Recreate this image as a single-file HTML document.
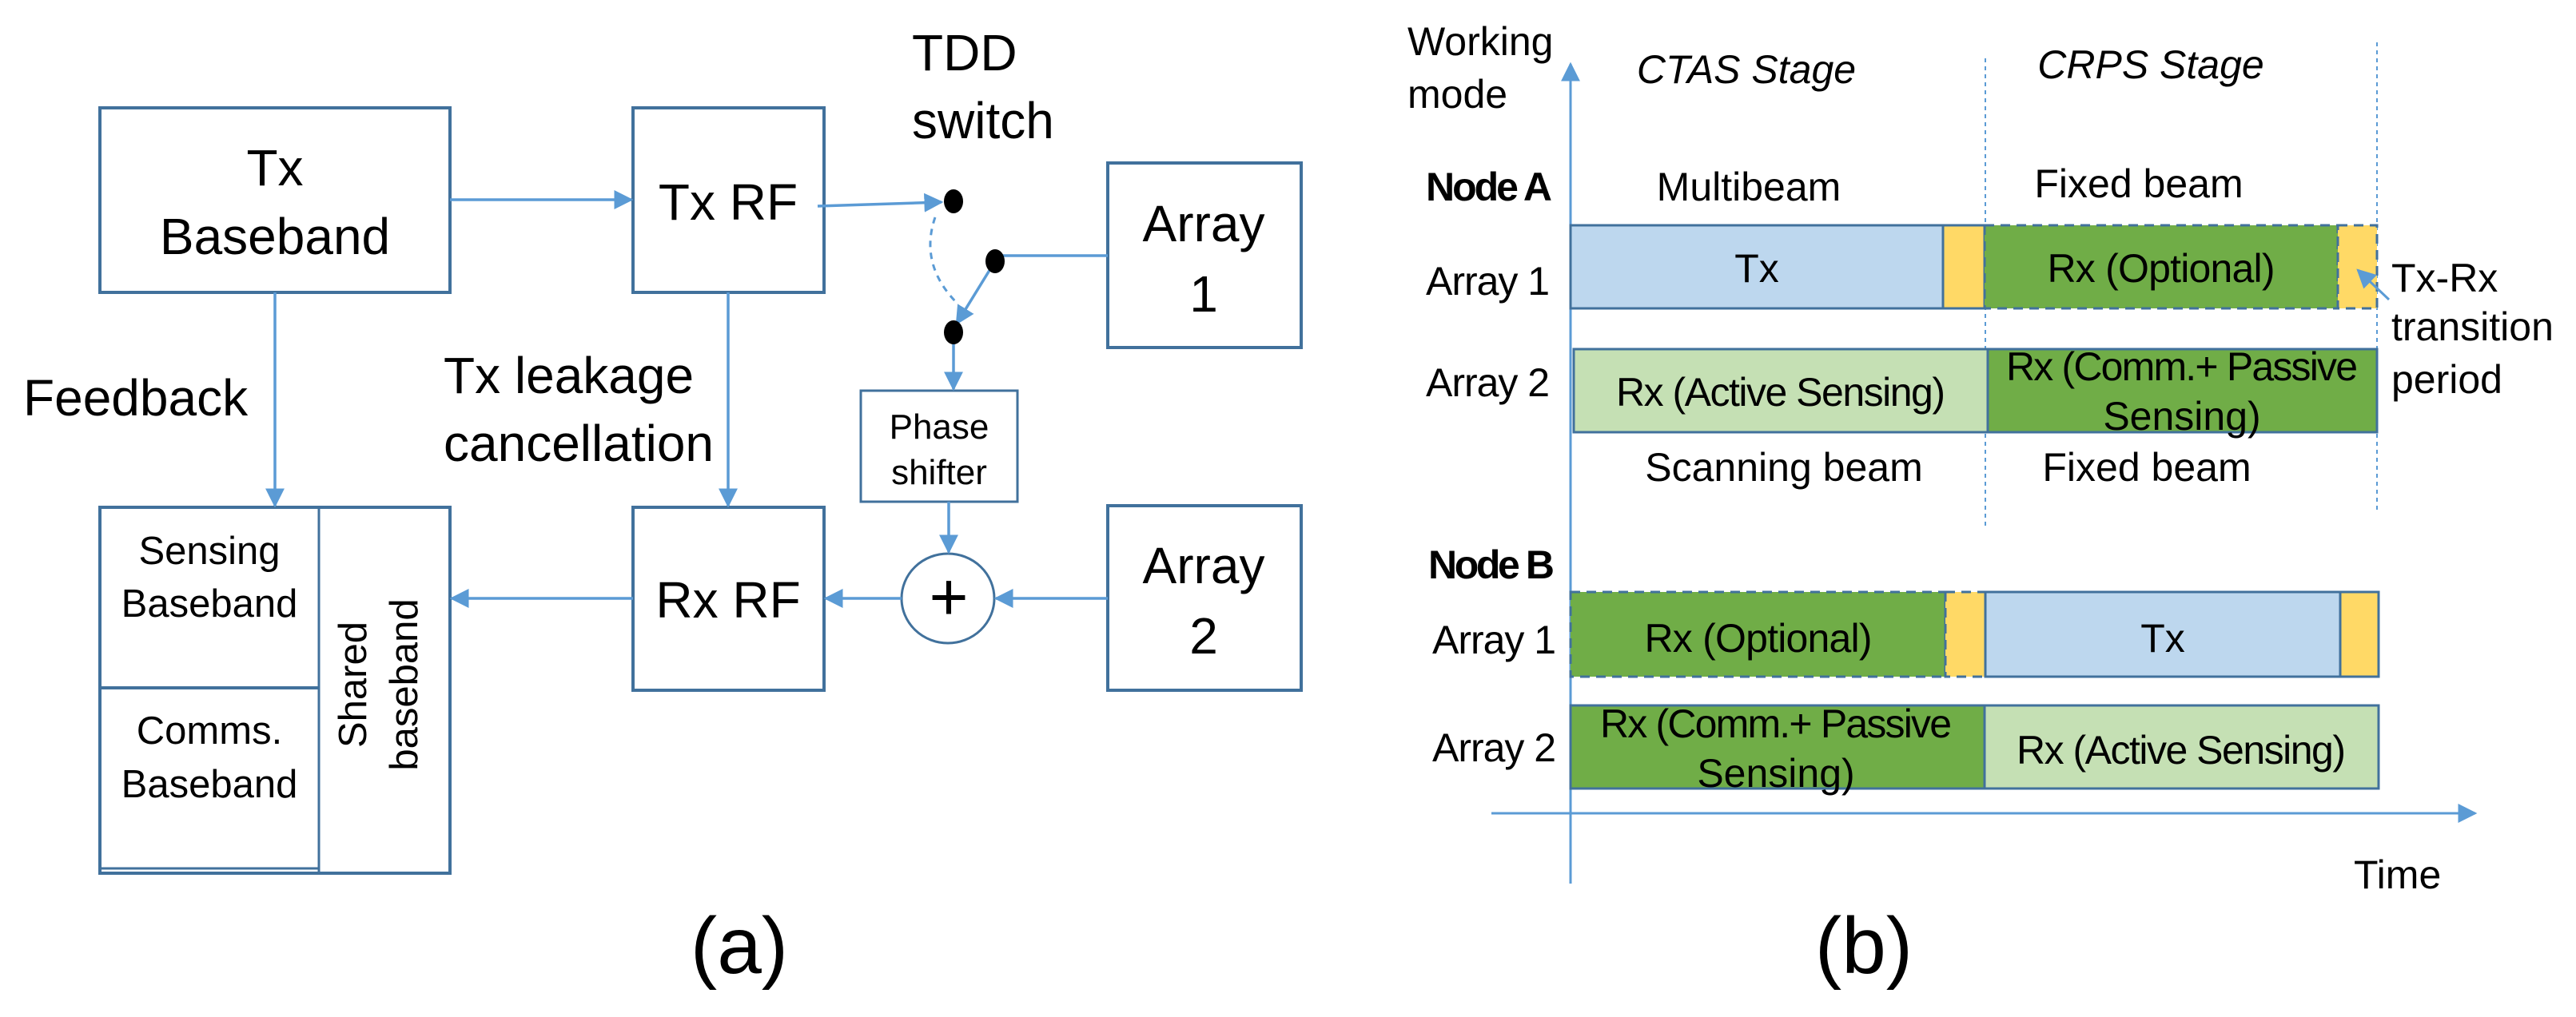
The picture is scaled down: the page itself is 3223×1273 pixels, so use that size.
<!DOCTYPE html>
<html><head><meta charset="utf-8"><style>
html,body{margin:0;padding:0;background:#fff;}
svg{display:block;}
text{font-family:"Liberation Sans",sans-serif;fill:#000;}
</style></head><body>
<svg width="3223" height="1273" viewBox="0 0 3223 1273" xmlns="http://www.w3.org/2000/svg">
<defs>
<marker id="a" viewBox="0 0 10 10" refX="9" refY="5" markerWidth="24" markerHeight="24" markerUnits="userSpaceOnUse" orient="auto"><path d="M0,0 L10,5 L0,10 z" fill="#5b9bd5"/></marker>
</defs>
<g fill="none" stroke="#41719c" stroke-width="4">
<rect x="125" y="135" width="438" height="231"/>
<rect x="792" y="135" width="239" height="231"/>
<rect x="1386" y="204" width="242" height="231"/>
<rect x="1077" y="489" width="196" height="139" stroke-width="3"/>
<rect x="1386" y="633" width="242" height="231"/>
<rect x="792" y="635" width="239" height="229"/>
<rect x="125" y="635" width="438" height="458"/>
<line x1="399" y1="635" x2="399" y2="1093" stroke-width="3"/>
<line x1="125" y1="861" x2="399" y2="861"/>
<line x1="125" y1="1087" x2="399" y2="1087" stroke-width="3"/>
<ellipse cx="1186" cy="749" rx="58" ry="56" stroke-width="3"/>
</g>
<g stroke="#5b9bd5" stroke-width="3.5" fill="none">
<line x1="563" y1="250" x2="790" y2="250" marker-end="url(#a)"/>
<line x1="1023" y1="258" x2="1178" y2="253" marker-end="url(#a)"/>
<line x1="344" y1="366" x2="344" y2="633" marker-end="url(#a)"/>
<line x1="911" y1="366" x2="911" y2="633" marker-end="url(#a)"/>
<line x1="1386" y1="320" x2="1245" y2="320"/>
<line x1="1245" y1="327" x2="1197" y2="405" marker-end="url(#a)"/>
<path d="M1170,272 Q1150,330 1196,378" stroke-dasharray="8,7" stroke-width="3"/>
<line x1="1193" y1="416" x2="1193" y2="487" marker-end="url(#a)"/>
<line x1="1187" y1="628" x2="1187" y2="691" marker-end="url(#a)"/>
<line x1="1386" y1="749" x2="1246" y2="749" marker-end="url(#a)"/>
<line x1="1128" y1="749" x2="1033" y2="749" marker-end="url(#a)"/>
<line x1="792" y1="749" x2="565" y2="749" marker-end="url(#a)"/>
</g>
<g fill="#000">
<ellipse cx="1193" cy="252" rx="12" ry="15"/>
<ellipse cx="1245" cy="327" rx="12" ry="15"/>
<ellipse cx="1193" cy="416" rx="12" ry="15"/>
</g>
<g font-size="64" text-anchor="middle">
<text x="344" y="232">Tx</text>
<text x="344" y="318">Baseband</text>
<text x="911" y="275">Tx RF</text>
<text x="911" y="773">Rx RF</text>
<text x="1506" y="302">Array</text>
<text x="1506" y="390">1</text>
<text x="1506" y="730">Array</text>
<text x="1506" y="818">2</text>
<text x="1187" y="776" font-size="84">+</text>
</g>
<g font-size="64">
<text x="1141" y="88">TDD</text>
<text x="1141" y="173">switch</text>
<text x="29" y="520">Feedback</text>
<text x="555" y="492">Tx leakage</text>
<text x="555" y="577">cancellation</text>
</g>
<g font-size="44" text-anchor="middle">
<text x="1175" y="549">Phase</text>
<text x="1175" y="606">shifter</text>
</g>
<g font-size="49" text-anchor="middle">
<text x="262" y="706">Sensing</text>
<text x="262" y="772">Baseband</text>
<text x="262" y="931">Comms.</text>
<text x="262" y="998">Baseband</text>
<g transform="translate(478,857) rotate(-90)">
<text x="0" y="-20">Shared</text>
<text x="0" y="44">baseband</text>
</g>
</g>
<text x="925" y="1218" font-size="100" text-anchor="middle">(a)</text>

<!-- (b) -->
<g stroke="#5b9bd5" stroke-width="3" fill="none">
<line x1="1965" y1="1106" x2="1965" y2="80" marker-end="url(#a)"/>
<line x1="1866" y1="1018" x2="3097" y2="1018" marker-end="url(#a)"/>
<line x1="2484" y1="73" x2="2484" y2="661" stroke-dasharray="5,5" stroke-width="2"/>
<line x1="2974" y1="53" x2="2974" y2="640" stroke-dasharray="5,5" stroke-width="2"/>
</g>
<g stroke="#41719c" stroke-width="3">
<rect x="1965" y="282" width="466" height="104" fill="#bdd7ee"/>
<rect x="2431" y="282" width="52" height="104" fill="#ffd966"/>
<rect x="2483" y="282" width="442" height="104" fill="#70ad47" stroke-dasharray="12,8"/>
<rect x="2925" y="282" width="49" height="104" fill="#ffd966" stroke-dasharray="12,8"/>
<rect x="1969" y="437" width="518" height="104" fill="#c5e0b4"/>
<rect x="2487" y="437" width="487" height="104" fill="#70ad47"/>
<rect x="1965" y="741" width="469" height="106" fill="#70ad47" stroke-dasharray="12,8"/>
<rect x="2434" y="741" width="50" height="106" fill="#ffd966" stroke-dasharray="12,8"/>
<rect x="2484" y="741" width="444" height="106" fill="#bdd7ee"/>
<rect x="2928" y="741" width="48" height="106" fill="#ffd966"/>
<rect x="1965" y="883" width="518" height="104" fill="#70ad47"/>
<rect x="2483" y="883" width="493" height="104" fill="#c5e0b4"/>
</g>
<line x1="2989" y1="375" x2="2950" y2="338" stroke="#5b9bd5" stroke-width="3" marker-end="url(#a)"/>
<g font-size="50">
<text x="1761" y="69">Working</text>
<text x="1761" y="135">mode</text>
<text x="1784" y="251" font-weight="bold" textLength="158">Node A</text>
<text x="1784" y="369" textLength="155">Array 1</text>
<text x="1784" y="496" textLength="155">Array 2</text>
<text x="1787" y="724" font-weight="bold" textLength="158">Node B</text>
<text x="1792" y="818" textLength="155">Array 1</text>
<text x="1792" y="953" textLength="155">Array 2</text>
<text x="2992" y="365">Tx-Rx</text>
<text x="2992" y="426">transition</text>
<text x="2992" y="492">period</text>
<text x="2945" y="1112">Time</text>
</g>
<g font-size="50" text-anchor="middle">
<text x="2185" y="104" font-style="italic">CTAS Stage</text>
<text x="2691" y="98" font-style="italic">CRPS Stage</text>
<text x="2188" y="251">Multibeam</text>
<text x="2676" y="247">Fixed beam</text>
<text x="2232" y="602">Scanning beam</text>
<text x="2686" y="602">Fixed beam</text>
<text x="2198" y="353">Tx</text>
<text x="2704" y="353" textLength="285">Rx (Optional)</text>
<text x="2228" y="508" textLength="412">Rx (Active Sensing)</text>
<text x="2730" y="476" textLength="440">Rx (Comm.+ Passive</text>
<text x="2730" y="538">Sensing)</text>
<text x="2200" y="816" textLength="285">Rx (Optional)</text>
<text x="2706" y="816">Tx</text>
<text x="2222" y="923" textLength="440">Rx (Comm.+ Passive</text>
<text x="2222" y="985">Sensing)</text>
<text x="2729" y="956" textLength="412">Rx (Active Sensing)</text>
</g>
<text x="2332" y="1218" font-size="100" text-anchor="middle">(b)</text>
</svg>
</body></html>
